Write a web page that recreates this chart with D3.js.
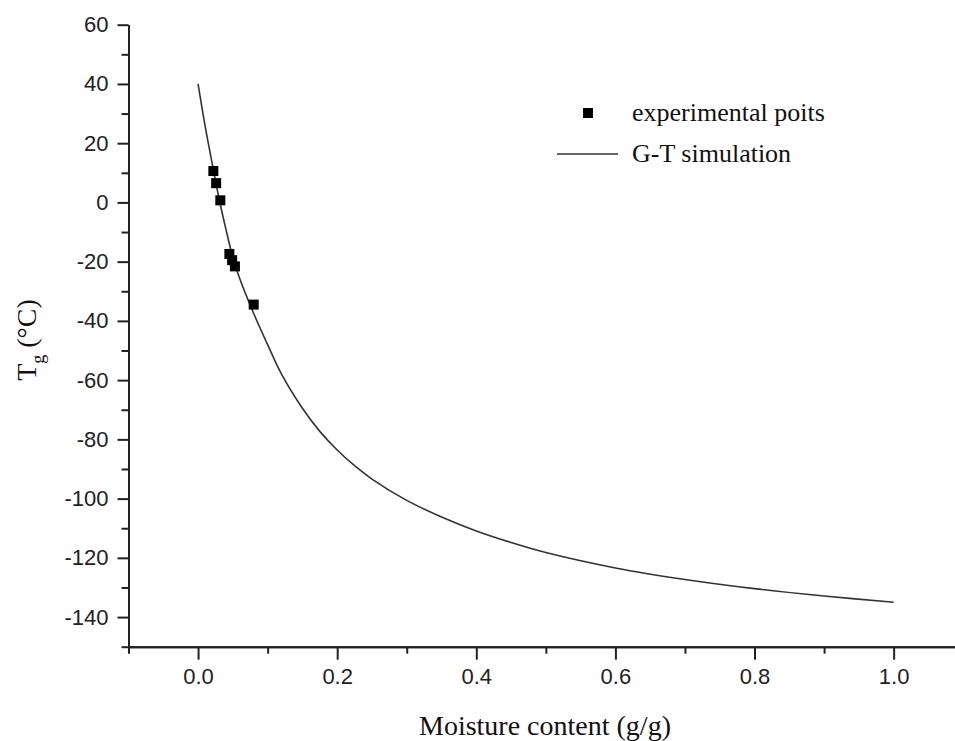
<!DOCTYPE html>
<html>
<head>
    <meta charset="utf-8">
    <title>Tg vs moisture content</title>
    <script src="https://cdnjs.cloudflare.com/ajax/libs/d3/7.8.5/d3.min.js"></script>
    <style>
        body { margin: 0; background: #fff; }
        .tick text { font-family: "Liberation Sans", Arial, sans-serif; font-size: 22px; fill: #222; }
        .domain, .tick line { stroke: #222; stroke-width: 2px; }
        .serif { font-family: "Liberation Serif", "Times New Roman", serif; fill: #111; }
    </style>
</head>
<body>
<div id="chart"></div>

<script type="text/javascript">
    var width = 955,
        height = 741;

    // experimental points (moisture g/g, Tg in C)
    var expMoisture = [0.022, 0.026, 0.032, 0.045, 0.049, 0.053, 0.080];
    var expTg       = [10.6, 6.5, 0.7, -17.4, -19.5, -21.6, -34.5];

    // G-T simulation curve
    var simMoisture = [0, 0.01, 0.02, 0.03, 0.04, 0.05, 0.06, 0.08, 0.10, 0.12, 0.15, 0.175, 0.20,
                       0.225, 0.25, 0.30, 0.35, 0.40, 0.45, 0.50, 0.60, 0.70, 0.80, 0.90, 1.00];
    var simTg       = [40, 26, 13.5, 1.5, -9, -18.5, -25.8, -37.5, -48, -58, -69.5, -77.3, -83.6,
                       -88.9, -93.4, -100.6, -106.2, -110.9, -114.8, -118.2, -123.4, -127.3, -130.4, -132.9, -135];

    var xMajor = [0, 0.2, 0.4, 0.6, 0.8, 1.0],
        xMinor = [-0.1, 0.1, 0.3, 0.5, 0.7, 0.9, 1.1],
        yMajor = [-140, -120, -100, -80, -60, -40, -20, 0, 20, 40, 60],
        yMinor = [-150, -130, -110, -90, -70, -50, -30, -10, 10, 30, 50];

    var legendLabels = ["experimental poits", "G-T simulation"];

    var svg = d3.select("#chart").append("svg")
        .attr("width", width)
        .attr("height", height);

    var x = d3.scaleLinear().domain([-0.1, 1.1]).range([128.5, 963.2]);
    var y = d3.scaleLinear().domain([-150, 60]).range([646.7, 24.7]);

    //////////////////// axes ////////////////////
    svg.append("g")
        .attr("transform", "translate(0,646.7)")
        .call(d3.axisBottom(x).tickValues(xMinor).tickSize(7).tickSizeOuter(0).tickFormat(""));
    svg.append("g")
        .attr("transform", "translate(0,646.7)")
        .call(d3.axisBottom(x).tickValues(xMajor).tickSize(13).tickSizeOuter(0)
            .tickPadding(9).tickFormat(d3.format(".1f")));

    svg.append("g")
        .attr("transform", "translate(128.5,0)")
        .call(d3.axisLeft(y).tickValues(yMinor).tickSize(7).tickSizeOuter(0).tickFormat(""));
    svg.append("g")
        .attr("transform", "translate(128.5,0)")
        .call(d3.axisLeft(y).tickValues(yMajor).tickSize(11).tickSizeOuter(0)
            .tickPadding(9).tickFormat(function(d) { return String(d); }));

    //////////////////// curve + points ////////////////////
    var simData = simMoisture.map(function(m, i) { return [m, simTg[i]]; });
    var expData = expMoisture.map(function(m, i) { return [m, expTg[i]]; });

    var line = d3.line()
        .x(function(d) { return x(d[0]); })
        .y(function(d) { return y(d[1]); })
        .curve(d3.curveCatmullRom.alpha(0.5));

    svg.append("path")
        .datum(simData)
        .attr("d", line)
        .attr("fill", "none")
        .attr("stroke", "#333")
        .attr("stroke-width", 1.6);

    var sq = 10;
    svg.selectAll(".pt")
        .data(expData)
        .enter().append("rect")
        .attr("class", "pt")
        .attr("x", function(d) { return x(d[0]) - sq / 2; })
        .attr("y", function(d) { return y(d[1]) - sq / 2; })
        .attr("width", sq)
        .attr("height", sq)
        .attr("fill", "#000");

    //////////////////// legend ////////////////////
    var legend = svg.append("g").attr("transform", "translate(632,0)");
    legend.append("rect")
        .attr("x", -49).attr("y", 108).attr("width", sq).attr("height", sq)
        .attr("fill", "#000");
    legend.append("line")
        .attr("x1", -75).attr("x2", -14).attr("y1", 154).attr("y2", 154)
        .attr("stroke", "#333").attr("stroke-width", 1.6);
    legend.selectAll(".lt")
        .data(legendLabels)
        .enter().append("text")
        .attr("class", "serif")
        .attr("x", 0)
        .attr("y", function(d, i) { return 121 + i * 41; })
        .style("font-size", "26px")
        .text(function(d) { return d; });

    //////////////////// titles ////////////////////
    svg.append("text")
        .attr("class", "serif")
        .attr("x", 545)
        .attr("y", 735)
        .attr("text-anchor", "middle")
        .style("font-size", "28px")
        .text("Moisture content (g/g)");

    var yt = svg.append("text")
        .attr("class", "serif")
        .attr("transform", "translate(36,340) rotate(-90)")
        .attr("text-anchor", "middle")
        .style("font-size", "28px");
    yt.append("tspan").text("T");
    yt.append("tspan").attr("dy", 8).style("font-size", "18px").text("g");
    yt.append("tspan").attr("dy", -8).text(" (\u00B0C)");
</script>
</body>
</html>
